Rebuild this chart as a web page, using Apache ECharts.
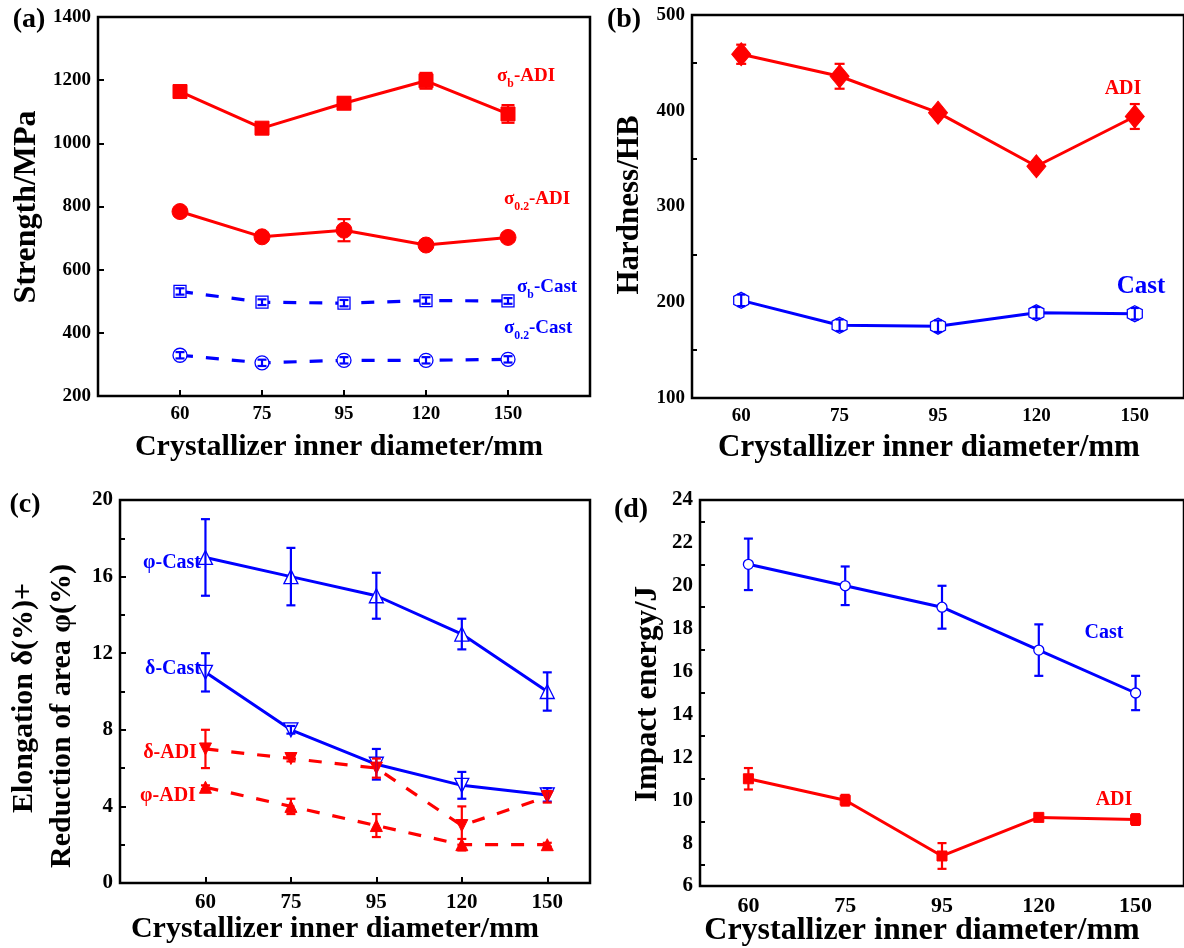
<!DOCTYPE html>
<html>
<head>
<meta charset="utf-8">
<script src="https://cdn.jsdelivr.net/npm/echarts@6/dist/echarts.min.js"></script>
<style>
html,body{margin:0;padding:0;background:#fff;}
#c{width:1184px;height:948px;}
</style>
</head>
<body>
<div id="c"></div>
<script>
// ---------- data ----------
const categories = ['60', '75', '95', '120', '150'];
// (a) strength, MPa
const sigmaB_ADI = [1164, 1048, 1127, 1198, 1093];
const sigmaB_ADI_err = [15, 15, 18, 25, 28];
const sigma02_ADI = [784, 704, 725, 678, 702];
const sigma02_ADI_err = [12, 12, 35, 12, 12];
const sigmaB_Cast = [531, 497, 494, 502, 501];
const sigmaB_Cast_err = [10, 9, 10, 10, 9];
const sigma02_Cast = [329, 305, 313, 313, 316];
const sigma02_Cast_err = [10, 10, 10, 10, 10];
// (b) hardness, HB
const hard_ADI = [459, 436, 398, 342, 394];
const hard_ADI_err = [10, 13, 5, 5, 13];
const hard_Cast = [202, 176, 175, 189, 188];
const hard_Cast_err = [6, 6, 6, 6, 6];
// (c) elongation / reduction of area, %
const phi_Cast = [17, 16, 15, 13, 10];
const phi_Cast_err = [2, 1.5, 1.2, 0.8, 1];
const delta_Cast = [11, 8, 6.2, 5.1, 4.6];
const delta_Cast_err = [1, 0.2, 0.8, 0.7, 0.35];
const delta_ADI = [7, 6.5, 6, 3, 4.5];
const delta_ADI_err = [1, 0.15, 0.5, 1, 0.3];
const phi_ADI = [5, 4, 3, 2, 2];
const phi_ADI_err = [0.1, 0.4, 0.6, 0.3, 0.1];
// (d) impact energy, J
const impact_Cast = [21, 20, 19, 17, 15];
const impact_Cast_err = [1.2, 0.9, 1, 1.2, 0.8];
const impact_ADI = [11, 10, 7.4, 9.2, 9.1];
const impact_ADI_err = [0.5, 0.25, 0.6, 0.1, 0.25];

// ---------- helpers ----------
const RED = '#ff0000', BLUE = '#0000ff';
const FONT = 'Liberation Serif';
const posValue = categories.map((c, i) => i + 1); // value axes (a),(c)
const posCat = categories.map((c, i) => i);       // category axes (b),(d)

function lineSeries(g, xs, vals, color, symbol, size, filled, dashed, z) {
  return {
    type: 'line', xAxisIndex: g, yAxisIndex: g, z: z || 3,
    data: vals.map((v, i) => [xs[i], v]),
    symbol: symbol, symbolSize: size, showSymbol: true,
    itemStyle: filled ? { color: color, borderColor: color, borderWidth: 1 }
                      : { color: '#fff', borderColor: color, borderWidth: 1.3 },
    lineStyle: { color: color, width: dashed ? 3.2 : 3, type: dashed ? [13, 13] : 'solid' },
    silent: true
  };
}
function errSeries(g, xs, vals, errs, color, cap, z) {
  return {
    type: 'custom', xAxisIndex: g, yAxisIndex: g, z: z, silent: true,
    data: vals.map((v, i) => [xs[i], v, errs[i]]),
    renderItem: function (params, api) {
      const x = api.value(0), v = api.value(1), e = api.value(2);
      const t = api.coord([x, v + e]), b = api.coord([x, v - e]);
      const hw = cap / 2;
      const st = { stroke: color, lineWidth: 2.2 };
      return { type: 'group', children: [
        { type: 'line', shape: { x1: t[0], y1: t[1], x2: b[0], y2: b[1] }, style: st },
        { type: 'line', shape: { x1: t[0] - hw, y1: t[1], x2: t[0] + hw, y2: t[1] }, style: st },
        { type: 'line', shape: { x1: b[0] - hw, y1: b[1], x2: b[0] + hw, y2: b[1] }, style: st }
      ]};
    }
  };
}
const tickLbl = (size) => ({ color: '#000', fontFamily: FONT, fontWeight: 'bold', fontSize: size });
function valueX(g, max, lblSize) {
  return {
    type: 'value', gridIndex: g, min: 0, max: max, interval: 1,
    axisLine: { show: false }, splitLine: { show: false },
    axisTick: { inside: true, length: 6, lineStyle: { color: '#000', width: 2 } },
    axisLabel: Object.assign(tickLbl(lblSize), { margin: 9,
      formatter: v => (Number.isInteger(v) && v >= 1 && v <= categories.length) ? categories[v - 1] : '' })
  };
}
function catX(g, lblSize) {
  return {
    type: 'category', gridIndex: g, data: categories, boundaryGap: true,
    axisLine: { show: false }, splitLine: { show: false },
    axisTick: { inside: true, alignWithLabel: true, length: 6, lineStyle: { color: '#000', width: 2 } },
    axisLabel: Object.assign(tickLbl(lblSize), { margin: 9 })
  };
}
function valueY(g, min, max, interval, minor, lblSize) {
  return {
    type: 'value', gridIndex: g, min: min, max: max, interval: interval,
    axisLine: { show: false }, splitLine: { show: false },
    axisTick: { inside: true, length: 6, lineStyle: { color: '#000', width: 2 } },
    minorTick: { show: minor, splitNumber: 2, length: 5, lineStyle: { color: '#000', width: 2 } },
    axisLabel: Object.assign(tickLbl(lblSize), { margin: 7, formatter: v => String(v) })
  };
}
function txt(x, y, text, size, color, opts) {
  return Object.assign({
    type: 'text', x: x, y: y, silent: true,
    style: Object.assign({ text: text, fill: color || '#000', fontFamily: FONT, fontWeight: 'bold',
      fontSize: size, textAlign: 'center', textVerticalAlign: 'middle' }, (opts && opts.style) || {})
  }, (opts && opts.el) || {});
}
function subTxt(x, y, main, sub, rest, size, color) {
  return {
    type: 'text', x: x, y: y, silent: true,
    style: {
      text: '{m|' + main + '}{s|' + sub + '}{m|' + rest + '}',
      textAlign: 'left', textVerticalAlign: 'middle',
      rich: {
        m: { fontFamily: FONT, fontWeight: 'bold', fontSize: size, fill: color, color: color, verticalAlign: 'top', lineHeight: size + 8 },
        s: { fontFamily: FONT, fontWeight: 'bold', fontSize: size * 0.62, fill: color, color: color, verticalAlign: 'top', lineHeight: size + 8, padding: [size * 0.62, 0, 0, 0] }
      }
    }
  };
}
const rot = Math.PI / 2;

const gridBase = { show: true, borderColor: '#000', borderWidth: 2.5, backgroundColor: 'transparent', containLabel: false };

const option = {
  animation: false,
  backgroundColor: '#fff',
  grid: [
    Object.assign({ left: 98, top: 17, width: 492, height: 379 }, gridBase),
    Object.assign({ left: 692, top: 15, width: 500, height: 383 }, gridBase),
    Object.assign({ left: 120, top: 500, width: 470, height: 383 }, gridBase),
    Object.assign({ left: 700, top: 500, width: 488, height: 386 }, gridBase)
  ],
  xAxis: [ valueX(0, 6, 19), catX(1, 19), valueX(2, 5.5, 21), catX(3, 22) ],
  yAxis: [
    valueY(0, 200, 1400, 200, false, 19),
    valueY(1, 100, 500, 100, true, 19),
    valueY(2, 0, 20, 4, true, 21),
    valueY(3, 6, 24, 2, true, 21)
  ],
  series: [
    // (a)
    lineSeries(0, posValue, sigmaB_ADI, RED, 'rect', 14, true, false),
    errSeries(0, posValue, sigmaB_ADI, sigmaB_ADI_err, RED, 13, 4),
    lineSeries(0, posValue, sigma02_ADI, RED, 'circle', 16, true, false),
    errSeries(0, posValue, sigma02_ADI, sigma02_ADI_err, RED, 13, 4),
    lineSeries(0, posValue, sigmaB_Cast, BLUE, 'rect', 12, false, true),
    errSeries(0, posValue, sigmaB_Cast, sigmaB_Cast_err, BLUE, 9, 4),
    lineSeries(0, posValue, sigma02_Cast, BLUE, 'circle', 14, false, true),
    errSeries(0, posValue, sigma02_Cast, sigma02_Cast_err, BLUE, 9, 4),
    // (b)
    lineSeries(1, posCat, hard_ADI, RED, 'diamond', [19, 23], true, false),
    errSeries(1, posCat, hard_ADI, hard_ADI_err, RED, 10, 4),
    lineSeries(1, posCat, hard_Cast, BLUE, 'path://M0,-10 L8.66,-5 L8.66,5 L0,10 L-8.66,5 L-8.66,-5 Z', [15, 16], false, false),
    errSeries(1, posCat, hard_Cast, hard_Cast_err, BLUE, 8, 4),
    // (c)
    lineSeries(2, posValue, phi_Cast, BLUE, 'triangle', 14, false, false),
    errSeries(2, posValue, phi_Cast, phi_Cast_err, BLUE, 9, 4),
    lineSeries(2, posValue, delta_Cast, BLUE, 'path://M-10,-8 L10,-8 L0,10 Z', 14, false, false),
    errSeries(2, posValue, delta_Cast, delta_Cast_err, BLUE, 9, 4),
    lineSeries(2, posValue, delta_ADI, RED, 'path://M-10,-8 L10,-8 L0,10 Z', 12, true, true),
    errSeries(2, posValue, delta_ADI, delta_ADI_err, RED, 9, 4),
    lineSeries(2, posValue, phi_ADI, RED, 'triangle', 12, true, true),
    errSeries(2, posValue, phi_ADI, phi_ADI_err, RED, 9, 4),
    // (d)
    lineSeries(3, posCat, impact_Cast, BLUE, 'circle', 10, false, false, 4),
    errSeries(3, posCat, impact_Cast, impact_Cast_err, BLUE, 9, 3),
    lineSeries(3, posCat, impact_ADI, RED, 'rect', 10, true, false, 4),
    errSeries(3, posCat, impact_ADI, impact_ADI_err, RED, 9, 3)
  ],
  graphic: [
    // panel letters
    txt(29, 20, '(a)', 28),
    txt(624, 20, '(b)', 28),
    txt(25, 505, '(c)', 28),
    txt(631, 510, '(d)', 28),
    // x titles
    txt(339, 447, 'Crystallizer inner diameter/mm', 30),
    txt(929, 448, 'Crystallizer inner diameter/mm', 31),
    txt(335, 929, 'Crystallizer inner diameter/mm', 30),
    txt(922, 931, 'Crystallizer inner diameter/mm', 32),
    // y titles
    txt(27, 207, 'Strength/MPa', 32, '#000', { el: { rotation: rot } }),
    txt(630, 205, 'Hardness/HB', 31, '#000', { el: { rotation: rot } }),
    txt(24, 698, 'Elongation δ(%)+', 30, '#000', { el: { rotation: rot } }),
    txt(62, 716, 'Reduction of area φ(%)', 30, '#000', { el: { rotation: rot } }),
    txt(648, 694, 'Impact energy/J', 31, '#000', { el: { rotation: rot } }),
    // (a) series labels
    subTxt(497, 80, 'σ', 'b', '-ADI', 19, RED),
    subTxt(504, 203, 'σ', '0.2', '-ADI', 19, RED),
    subTxt(517, 291, 'σ', 'b', '-Cast', 19, BLUE),
    subTxt(504, 332, 'σ', '0.2', '-Cast', 19, BLUE),
    // (b)
    txt(1123, 89, 'ADI', 20, RED),
    txt(1141, 287, 'Cast', 25, BLUE),
    // (c)
    txt(172, 563, 'φ-Cast', 20, BLUE),
    txt(173, 669, 'δ-Cast', 20, BLUE),
    txt(170, 753, 'δ-ADI', 20, RED),
    txt(168, 796, 'φ-ADI', 20, RED),
    // (d)
    txt(1104, 633, 'Cast', 20, BLUE),
    txt(1114, 800, 'ADI', 20, RED)
  ]
};
const chart = echarts.init(document.getElementById('c'), null, { renderer: 'canvas' });
chart.setOption(option);
</script>
</body>
</html>
